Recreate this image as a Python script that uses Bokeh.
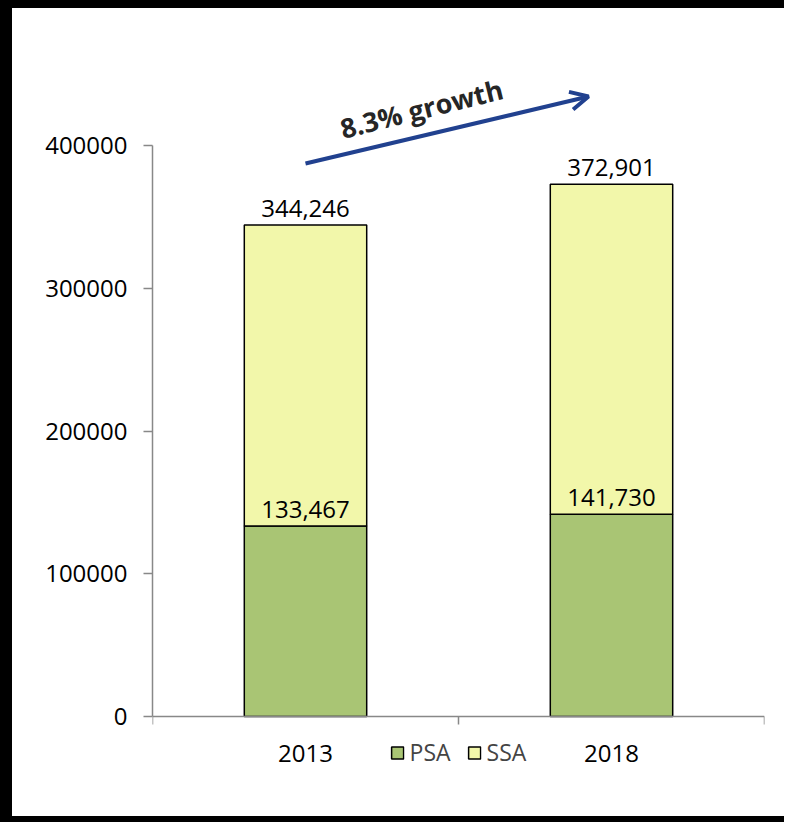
from bokeh.plotting import figure
from bokeh.models import (Range1d, FactorRange, LinearAxis, FixedTicker, Legend, LegendItem,
                          Arrow, OpenHead, Label, ColumnDataSource, BasicTickFormatter)
from bokeh.core.properties import value
from bokeh.embed import file_html
from bokeh.resources import INLINE

# ---- data ----
years = ["2013", "2018"]
psa = [133467, 141730]
totals = [344246, 372901]
ssa = [t - v for t, v in zip(totals, psa)]
series = ["PSA", "SSA"]
y_ticks = [0, 100000, 200000, 300000, 400000]
growth_text = "8.3% growth"

FONT = "Open Sans"
GREEN = "#A9C574"
YELLOW = "#F2F7AA"
AXIS = "#888888"

p = figure(x_range=FactorRange(factors=years), y_range=Range1d(-37828, 473555),
           width=784, height=822, output_backend="svg", toolbar_location=None,
           x_axis_location=None, min_border_left=140, min_border_right=32,
           min_border_top=32, min_border_bottom=60)
p.styles = {"border-top": "8px solid black", "border-left": "12px solid black",
            "border-bottom": "6px solid black"}
p.outline_line_color = None
p.xgrid.grid_line_color = None
p.ygrid.grid_line_color = None
p.background_fill_color = "white"
p.border_fill_color = "white"

src = ColumnDataSource(dict(x=years, PSA=psa, SSA=ssa, total=totals, psa_v=psa,
                            total_lbl=[f"{v:,}" for v in totals],
                            psa_lbl=[f"{v:,}" for v in psa]))

rs = p.vbar_stack(series, x="x", width=0.4, source=src, fill_color=[GREEN, YELLOW],
                  line_color="black", line_width=1.5)

# y axis
ya = p.yaxis[0]
ya.ticker = FixedTicker(ticks=y_ticks)
ya.formatter = BasicTickFormatter(use_scientific=False)
ya.bounds = (y_ticks[0], y_ticks[-1])
ya.axis_line_color = AXIS
ya.axis_line_width = 1.5
ya.major_tick_line_color = AXIS
ya.major_tick_line_width = 1.5
ya.major_tick_out = 9
ya.major_tick_in = 0
ya.minor_tick_line_color = None
ya.major_label_standoff = 16
ya.major_label_text_font = FONT
ya.major_label_text_font_size = "24px"
ya.major_label_text_color = "black"

# x axis at y=0: labels at category centres (synthetic coords), ticks at boundaries
centres = [i + 0.5 for i in range(len(years))]
xa = LinearAxis(ticker=FixedTicker(ticks=centres, minor_ticks=list(range(len(years) + 1))),
                major_label_overrides={c: y for c, y in zip(centres, years)},
                fixed_location=0)
xa.axis_line_color = AXIS
xa.axis_line_width = 1.5
xa.major_tick_line_color = None
xa.major_tick_out = 0
xa.major_tick_in = 0
xa.minor_tick_line_color = AXIS
xa.minor_tick_line_width = 1.5
xa.minor_tick_out = 8
xa.minor_tick_in = 0
xa.major_label_standoff = 20
xa.major_label_text_font = FONT
xa.major_label_text_font_size = "24px"
xa.major_label_text_color = "black"
p.add_layout(xa, "below")

# value labels
p.text(x="x", y="total", text="total_lbl", source=src, text_align="center",
       text_baseline="bottom", y_offset=-8, text_font=value(FONT),
       text_font_size="24px", text_color="black")
p.text(x="x", y="psa_v", text="psa_lbl", source=src, text_align="center",
       text_baseline="bottom", y_offset=-8, text_font=value(FONT),
       text_font_size="24px", text_color="black")

# growth arrow + text (synthetic categorical x coordinates)
arrow = Arrow(x_start=0.5, y_start=387400, x_end=1.425, y_end=434300,
              line_color="#21418F", line_width=4,
              end=OpenHead(size=18, line_color="#21418F", line_width=4))
p.add_layout(arrow)
p.add_layout(Label(x=0.879, y=425900, text=growth_text,
                   angle=14, angle_units="deg", text_align="center",
                   text_baseline="middle", text_font=FONT, text_font_style="bold",
                   text_font_size="27px", text_color="#262626"))

# legend (inside the frame, below the x axis labels row)
legend = Legend(items=[LegendItem(label=s, renderers=[r]) for s, r in zip(series, rs)],
                orientation="horizontal", location="bottom_center",
                glyph_width=15, glyph_height=15, label_standoff=5, spacing=16,
                padding=3, margin=2, border_line_color=None, background_fill_alpha=0,
                label_text_font=FONT, label_text_font_size="23px")
p.add_layout(legend, "center")

open("out.html", "w").write(file_html(p, INLINE))
